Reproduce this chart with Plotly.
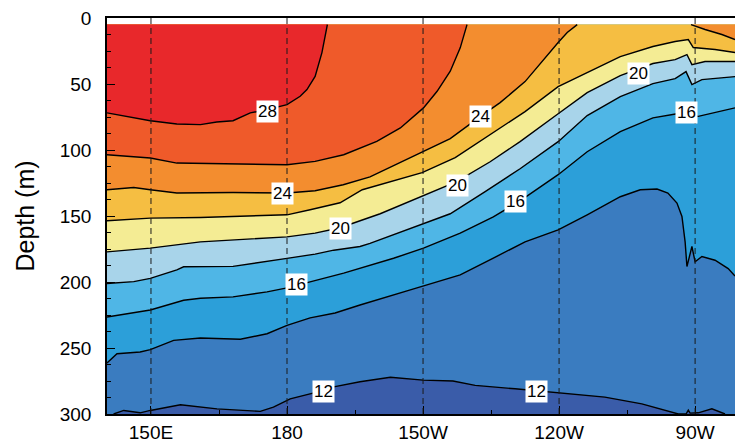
import plotly.graph_objects as go

# ---------------- data ----------------
LON_MIN, LON_MAX = 140.3, 278.8      # longitude span (deg E)
DEPTH_TOP, DEPTH_BOT = 5, 300        # depth span of the data (m)

x_tickvals = [150, 180, 210, 240, 270]
x_ticktext = ["150E", "180", "150W", "120W", "90W"]
y_tickvals = [0, 50, 100, 150, 200, 250, 300]

# isotherm depths (m) along longitude (deg E)
iso28_lon = [140.3, 149.85, 155.7, 160.9, 164.5, 168.1, 171.9, 175.6, 180.0, 182.9, 184.4, 186.2, 187.7, 188.4, 188.9]
iso28_dep = [71.9, 77.8, 80.3, 80.8, 78.8, 77.8, 71.9, 69.4, 65.6, 59.3, 54.2, 44.2, 26.2, 13.8, 5]

iso26_lon = [140.3, 149.85, 155.7, 168.1, 180.0, 186.2, 192.5, 199.8, 205.0, 210.1, 213.1, 216.0, 218.2, 219.7]
iso26_dep = [103.6, 106.1, 109.9, 110.6, 111.2, 108.6, 103.6, 93.5, 83.3, 68.1, 55.5, 40.3, 22.6, 5]

iso24w_lon = [140.3, 146.2, 149.85, 155.7, 168.1, 180.0, 186.2, 192.4, 198.3, 205.0, 210.0, 216.0, 222.6, 227.0, 232.5, 235.8, 238.0, 239.8, 241.8, 244.0]
iso24w_dep = [130.1, 128.4, 130.1, 132.6, 132.2, 132.6, 130.9, 126.3, 120.3, 109.6, 101.3, 91.4, 74.7, 64.1, 48.2, 34.5, 25.4, 18.6, 11.0, 5]

iso24e_lon = [269.1, 272.2, 275.9, 278.8]
iso24e_dep = [5, 8.7, 12.5, 16.3]

iso22_lon = [140.3, 149.85, 160.9, 180.0, 185.1, 191.7, 196.6, 209.8, 217.1, 225.9, 232.5, 239.8, 246.2, 253.5, 260.7, 265.6, 268.5, 269.6, 274.4, 278.8]
iso22_dep = [153.6, 151.6, 151.1, 149.1, 145.3, 140.0, 130.1, 117.2, 105.8, 86.1, 70.9, 52.0, 41.4, 29.2, 21.6, 17.8, 16.3, 22.4, 23.9, 26.2]

iso20_lon = [140.3, 149.85, 160.9, 180.0, 186.2, 191.7, 200.55, 209.8, 217.3, 224.8, 231.4, 239.8, 246.2, 253.5, 260.7, 265.6, 268.2, 269.3, 272.2, 278.8]
iso20_dep = [177.2, 174.3, 169.6, 165.8, 163.0, 158.9, 148.3, 134.7, 124.1, 108.9, 93.7, 72.5, 56.5, 43.6, 34.5, 31.5, 27.7, 35.3, 33.0, 33.0]

iso18_lon = [140.3, 146.2, 149.85, 155.7, 157.2, 160.9, 168.1, 180.0, 186.2, 190.3, 196.1, 198.3, 210.1, 216.0, 223.7, 231.4, 239.8, 246.2, 253.5, 260.7, 265.6, 268.0, 269.3, 271.5, 278.8]
iso18_dep = [201.1, 199.7, 197.3, 190.8, 188.5, 188.3, 188.2, 182.1, 178.9, 175.9, 173.1, 170.8, 155.4, 148.3, 131.6, 114.2, 93.7, 73.9, 59.6, 49.7, 45.9, 40.6, 50.5, 46.7, 44.4]

iso16_lon = [140.3, 147.6, 149.85, 157.2, 160.9, 168.1, 175.6, 180.0, 185.1, 192.5, 203.5, 210.1, 218.2, 225.5, 231.4, 239.8, 246.2, 253.5, 260.7, 266.0, 270.7, 275.9, 278.8]
iso16_dep = [226.5, 222.7, 221.2, 213.8, 212.3, 211.3, 207.5, 204.5, 199.7, 193.3, 182.0, 174.4, 163.0, 150.6, 138.5, 118.7, 101.3, 86.1, 75.7, 72.5, 74.5, 70.7, 68.1]

iso14_lon = [140.3, 142.5, 147.6, 149.85, 155.0, 160.9, 169.7, 175.6, 180.0, 185.1, 190.6, 196.1, 207.2, 218.2, 225.5, 232.5, 239.8, 246.2, 253.5, 257.9, 261.6, 264.0, 266.0, 267.1, 267.8, 268.2, 269.3, 270.0, 271.5, 274.4, 277.3, 278.8]
iso14_dep = [261.4, 254.3, 253.0, 251.2, 244.2, 242.4, 243.4, 239.2, 232.8, 227.2, 223.5, 217.4, 206.0, 194.6, 181.9, 169.6, 160.5, 149.1, 135.4, 130.1, 129.6, 132.6, 140.2, 150.4, 169.6, 188.3, 173.1, 184.7, 180.7, 183.5, 189.8, 195.4]

iso12_lon = [141.75, 144.0, 147.6, 149.85, 156.5, 164.55, 174.1, 177.0, 180.7, 186.6, 190.3, 196.1, 202.8, 210.0, 216.6, 221.5, 230.3, 239.8, 250.1, 258.25, 263.4, 266.3, 268.0, 268.5, 268.9, 270.7, 273.7, 276.6]
iso12_dep = [300, 297.3, 299.1, 297.3, 293.0, 296.1, 298.0, 294.8, 288.5, 283.4, 279.4, 275.6, 272.2, 274.3, 275.0, 278.3, 280.9, 283.9, 287.2, 292.3, 297.3, 300, 300, 297.0, 299.3, 299.1, 296.1, 300]

# contour label text and positions (lon, depth)
label_text = ["28", "24", "20", "16", "12", "24", "20", "16", "12", "20", "16"]
label_lon = [175.6, 178.9, 191.7, 182.2, 188.05, 222.6, 217.5, 230.3, 235.1, 257.5, 268.2]
label_dep = [71.2, 132.6, 159.2, 202.2, 283.2, 74.5, 126.9, 139.0, 282.6, 42.3, 71.9]

# fill colour of the band starting at each level
color_below = "#3a5ca9"
band_color = {
    12: "#3a7cc0",
    14: "#2c9fd9",
    16: "#4fb6e6",
    18: "#a8d4ea",
    20: "#f4ec94",
    22: "#f5be42",
    24: "#f38d2f",
    26: "#ef5a2a",
    28: "#e8282b",
}

segments = [
    (12, iso12_lon, iso12_dep),
    (14, iso14_lon, iso14_dep),
    (16, iso16_lon, iso16_dep),
    (18, iso18_lon, iso18_dep),
    (20, iso20_lon, iso20_dep),
    (22, iso22_lon, iso22_dep),
    (24, iso24w_lon, iso24w_dep),
    (24, iso24e_lon, iso24e_dep),
    (26, iso26_lon, iso26_dep),
    (28, iso28_lon, iso28_dep),
]

FONT = "Liberation Sans, Arial, Helvetica, sans-serif"

fig = go.Figure()

# background band (colder than 12)
fig.add_trace(go.Scatter(
    x=[LON_MIN, LON_MAX, LON_MAX, LON_MIN], y=[DEPTH_TOP, DEPTH_TOP, DEPTH_BOT, DEPTH_BOT],
    mode="lines", fill="toself", fillcolor=color_below, line=dict(width=0),
    hoverinfo="skip", showlegend=False))

# regions warmer than each level, stacked from cold to warm
for lev, lo, de in segments:
    if lev == 12:
        xs = [LON_MIN] + lo + [LON_MAX, LON_MAX, LON_MIN]
        ys = [DEPTH_BOT] + de + [DEPTH_BOT, DEPTH_TOP, DEPTH_TOP]
    else:
        xs = lo + [lo[-1], lo[0]]
        ys = de + [DEPTH_TOP, DEPTH_TOP]
    fig.add_trace(go.Scatter(
        x=xs, y=ys, mode="lines", fill="toself", fillcolor=band_color[lev],
        line=dict(width=0), hoverinfo="skip", showlegend=False))

# isotherm lines
for lev, lo, de in segments:
    fig.add_trace(go.Scatter(
        x=lo, y=de, mode="lines", line=dict(color="black", width=1.4),
        hoverinfo="skip", showlegend=False))

# dashed meridians at the labelled longitudes
for xv in x_tickvals:
    fig.add_shape(type="line", xref="x", yref="y", x0=xv, x1=xv, y0=0, y1=DEPTH_BOT,
                  line=dict(color="#1a1a1a", width=1, dash="6px,4px"), layer="above")

# contour labels
for t, lo, de in zip(label_text, label_lon, label_dep):
    fig.add_annotation(x=lo, y=de, text=t, showarrow=False,
                       font=dict(size=17, color="black", family=FONT),
                       bgcolor="white", borderpad=1)

fig.update_layout(
    width=735, height=444,
    margin=dict(l=107, r=0, t=18, b=30, autoexpand=False),
    paper_bgcolor="white", plot_bgcolor="white",
    font=dict(family=FONT, color="black"),
    showlegend=False,
)
fig.update_xaxes(
    automargin=False,
    range=[LON_MIN, LON_MAX], tickvals=x_tickvals, ticktext=x_ticktext,
    showgrid=False, zeroline=False,
    showline=True, linecolor="black", linewidth=1.6, mirror=True,
    ticks="inside", ticklen=8, tickwidth=1.2, tickcolor="black",
    tickfont=dict(size=19), ticklabelstandoff=0,
    minor=dict(dtick=15, tick0=0, ticks="inside", ticklen=4, tickcolor="black", tickwidth=1),
)
fig.update_yaxes(
    automargin=False,
    range=[DEPTH_BOT, 0], tickvals=y_tickvals,
    showgrid=False, zeroline=False,
    showline=True, linecolor="black", linewidth=1.6, mirror=False,
    ticks="inside", ticklen=8, tickwidth=1.2, tickcolor="black",
    tickfont=dict(size=19), ticklabelstandoff=10,
    minor=dict(dtick=12.5, tick0=0, ticks="inside", ticklen=4, tickcolor="black", tickwidth=1),
    title=dict(text="Depth (m)", font=dict(size=25), standoff=18),
)

fig.write_html("out.html")
